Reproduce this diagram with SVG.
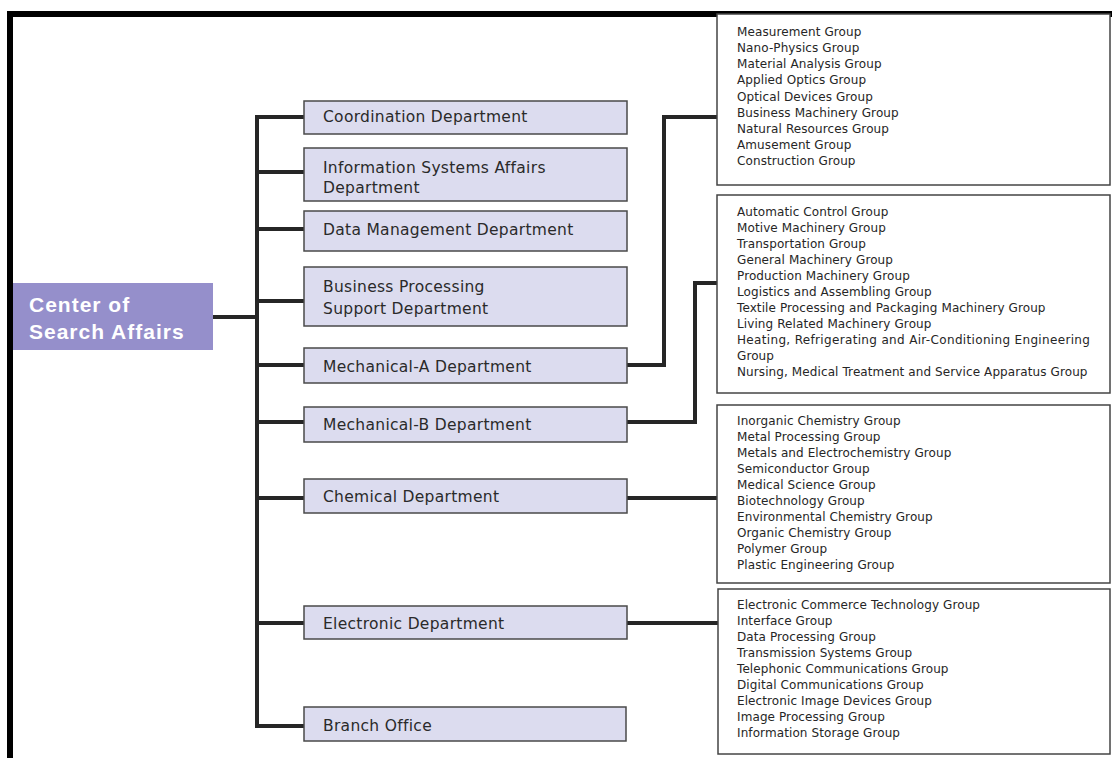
<svg xmlns="http://www.w3.org/2000/svg" width="1112" height="758" viewBox="0 0 1112 758">
  <style>
    .dept rect { fill: #dcdcef; stroke: #4a4a4a; stroke-width: 1.5; }
    .dept text { font-family: "DejaVu Sans", "Liberation Sans", sans-serif; font-size: 15.5px; letter-spacing: 0.3px; fill: #2a2a2a; }
    .grp rect { fill: #ffffff; stroke: #444444; stroke-width: 1.5; }
    .grp text { font-family: "DejaVu Sans", "Liberation Sans", sans-serif; font-size: 12px; letter-spacing: 0.1px; fill: #262626; }
    .wire { fill: none; stroke: #262626; stroke-width: 4; stroke-linejoin: miter; }
  </style>

  <rect x="0" y="0" width="1112" height="758" fill="#ffffff"/>

  <!-- page frame -->
  <rect x="7" y="11" width="1105" height="6" fill="#000000"/>
  <rect x="7" y="11" width="6" height="747" fill="#000000"/>

  <!-- connectors -->
  <g id="connectors">
    <path class="wire" d="M213 317 H257"/>
    <path class="wire" d="M304 117 H257 V726 H304"/>
    <path class="wire" d="M257 172 H304"/>
    <path class="wire" d="M257 229 H304"/>
    <path class="wire" d="M257 301 H304"/>
    <path class="wire" d="M257 365 H304"/>
    <path class="wire" d="M257 422 H304"/>
    <path class="wire" d="M257 498 H304"/>
    <path class="wire" d="M257 623 H304"/>
    <path class="wire" d="M627 365 H664 V117 H718"/>
    <path class="wire" d="M627 422 H695 V283 H718"/>
    <path class="wire" d="M627 498 H718"/>
    <path class="wire" d="M627 623 H718"/>
  </g>

  <!-- root -->
  <g id="center">
    <rect x="13" y="283" width="200" height="67" fill="#958fcb"/>
    <text font-family="Liberation Sans, Arial, sans-serif" font-size="21" font-weight="bold" fill="#ffffff" letter-spacing="1">
      <tspan x="29" y="312">Center of</tspan>
      <tspan x="29" y="339">Search Affairs</tspan>
    </text>
  </g>

  <!-- departments -->
  <g id="coordination" class="dept">
    <rect x="304" y="101" width="323" height="33"/>
    <text x="323" y="122">Coordination Department</text>
  </g>
  <g id="information-systems" class="dept">
    <rect x="304" y="148" width="323" height="53"/>
    <text x="323" y="173">Information Systems Affairs</text>
    <text x="323" y="193">Department</text>
  </g>
  <g id="data-management" class="dept">
    <rect x="304" y="211" width="323" height="40"/>
    <text x="323" y="235">Data Management Department</text>
  </g>
  <g id="business-processing" class="dept">
    <rect x="304" y="267" width="323" height="59"/>
    <text x="323" y="292">Business Processing</text>
    <text x="323" y="314">Support Department</text>
  </g>
  <g id="mechanical-a" class="dept">
    <rect x="304" y="348" width="323" height="35"/>
    <text x="323" y="372">Mechanical-A Department</text>
  </g>
  <g id="mechanical-b" class="dept">
    <rect x="304" y="407" width="323" height="35"/>
    <text x="323" y="430">Mechanical-B Department</text>
  </g>
  <g id="chemical" class="dept">
    <rect x="304" y="479" width="323" height="34"/>
    <text x="323" y="502">Chemical Department</text>
  </g>
  <g id="electronic" class="dept">
    <rect x="304" y="606" width="323" height="33"/>
    <text x="323" y="629">Electronic Department</text>
  </g>
  <g id="branch-office" class="dept">
    <rect x="304" y="707" width="322" height="34"/>
    <text x="323" y="731">Branch Office</text>
  </g>

  <!-- group lists -->
  <g id="groups-mechanical-a" class="grp">
    <rect x="717" y="14" width="393" height="171"/>
    <text x="737" y="36">Measurement Group</text>
    <text x="737" y="52">Nano-Physics Group</text>
    <text x="737" y="68">Material Analysis Group</text>
    <text x="737" y="84">Applied Optics Group</text>
    <text x="737" y="101">Optical Devices Group</text>
    <text x="737" y="117">Business Machinery Group</text>
    <text x="737" y="133">Natural Resources Group</text>
    <text x="737" y="149">Amusement Group</text>
    <text x="737" y="165">Construction Group</text>
  </g>
  <g id="groups-mechanical-b" class="grp">
    <rect x="717" y="195" width="393" height="198"/>
    <text x="737" y="216">Automatic Control Group</text>
    <text x="737" y="232">Motive Machinery Group</text>
    <text x="737" y="248">Transportation Group</text>
    <text x="737" y="264">General Machinery Group</text>
    <text x="737" y="280">Production Machinery Group</text>
    <text x="737" y="296">Logistics and Assembling Group</text>
    <text x="737" y="312">Textile Processing and Packaging Machinery Group</text>
    <text x="737" y="328">Living Related Machinery Group</text>
    <text x="737" y="344" textLength="353" lengthAdjust="spacing">Heating, Refrigerating and Air-Conditioning Engineering</text>
    <text x="737" y="360">Group</text>
    <text x="737" y="376">Nursing, Medical Treatment and Service Apparatus Group</text>
  </g>
  <g id="groups-chemical" class="grp">
    <rect x="717" y="405" width="393" height="178"/>
    <text x="737" y="425">Inorganic Chemistry Group</text>
    <text x="737" y="441">Metal Processing Group</text>
    <text x="737" y="457">Metals and Electrochemistry Group</text>
    <text x="737" y="473">Semiconductor Group</text>
    <text x="737" y="489">Medical Science Group</text>
    <text x="737" y="505">Biotechnology Group</text>
    <text x="737" y="521">Environmental Chemistry Group</text>
    <text x="737" y="537">Organic Chemistry Group</text>
    <text x="737" y="553">Polymer Group</text>
    <text x="737" y="569">Plastic Engineering Group</text>
  </g>
  <g id="groups-electronic" class="grp">
    <rect x="718" y="589" width="392" height="165"/>
    <text x="737" y="609">Electronic Commerce Technology Group</text>
    <text x="737" y="625">Interface Group</text>
    <text x="737" y="641">Data Processing Group</text>
    <text x="737" y="657">Transmission Systems Group</text>
    <text x="737" y="673">Telephonic Communications Group</text>
    <text x="737" y="689">Digital Communications Group</text>
    <text x="737" y="705">Electronic Image Devices Group</text>
    <text x="737" y="721">Image Processing Group</text>
    <text x="737" y="737">Information Storage Group</text>
  </g>
</svg>
